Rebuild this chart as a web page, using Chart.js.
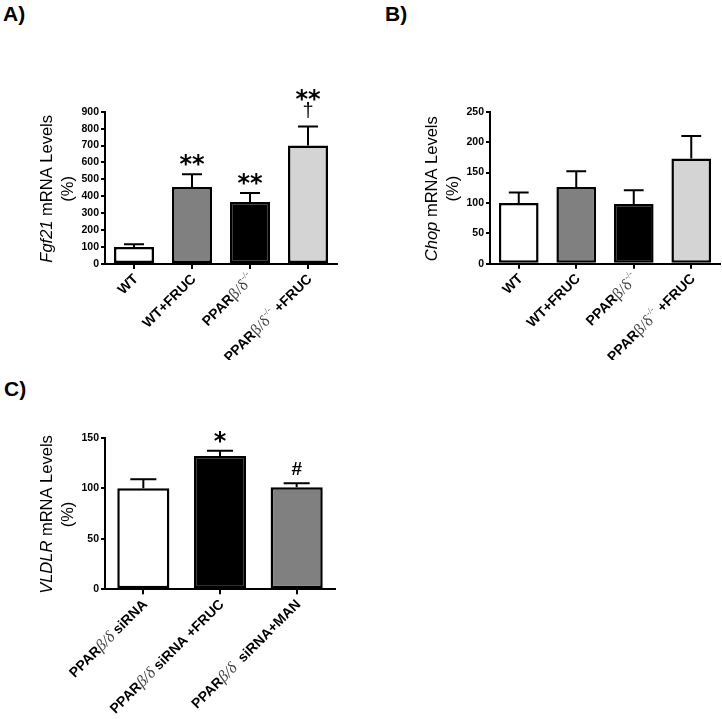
<!DOCTYPE html>
<html>
<head>
<meta charset="utf-8">
<script src="https://cdn.jsdelivr.net/npm/chart.js@4.4.0/dist/chart.umd.min.js"></script>
<style>
body { margin: 0; background: #fff; width: 722px; height: 719px; overflow: hidden; position: relative; font-family: "Liberation Sans", Arial, sans-serif; }
canvas { position: absolute; }
.tag { position: absolute; font-weight: bold; font-size: 21px; line-height: 1; color: #000; }
</style>
</head>
<body>
<div class="tag" style="left:3px;top:3px">A)</div>
<div class="tag" style="left:385px;top:3px">B)</div>
<div class="tag" style="left:4px;top:378px">C)</div>
<canvas id="chartA" style="left:0;top:0;width:360px;height:360px" width="360" height="360"></canvas>
<canvas id="chartB" style="left:361px;top:0;width:361px;height:360px" width="361" height="360"></canvas>
<canvas id="chartC" style="left:0;top:360px;width:360px;height:359px" width="360" height="359"></canvas>
<script>
// Data
const groupsAB = ['WT', 'WT+FRUC', 'PPARβ/δ-/-', 'PPARβ/δ-/- +FRUC'];
const fgf21 = [100, 455, 367, 700];
const fgf21Err = [16, 75, 53, 113];
const fgf21Sig = [[], ['**'], ['**'], ['**', '†']];
const fgf21Ticks = [0, 100, 200, 300, 400, 500, 600, 700, 800, 900];

const chop = [100, 126, 98, 173];
const chopErr = [17, 26, 23, 37];
const chopSig = [[], [], [], []];
const chopTicks = [0, 50, 100, 150, 200, 250];

const groupsC = ['PPARβ/δ siRNA', 'PPARβ/δ siRNA +FRUC', 'PPARβ/δ  siRNA+MAN'];
const vldlr = [100, 132, 101];
const vldlrErr = [9, 5, 4];
const vldlrSig = [[], ['*'], ['#']];
const vldlrTicks = [0, 50, 100, 150];

const SANS = '"Liberation Sans", Arial, sans-serif';
const SERIF = '"Liberation Serif", "Times New Roman", serif';
const symbolFont = {
    '**': 'bold 24px "DejaVu Sans", sans-serif',
    '*': 'bold 24px "DejaVu Sans", sans-serif',
    '†': '20px ' + SANS,
    '#': 'bold 19px ' + SANS
};

// split a category name into styled pieces (greek in serif, -/- as superscript)
function labelParts(text, italicGreek) {
    return text.split(/(β\/δ|-\/-)/).filter(s => s !== '').map(s => {
        if (s === 'β/δ') return { t: s, font: (italicGreek ? 'italic ' : '') + '16px ' + SERIF, color: '#444', dy: 0 };
        if (s === '-/-') return { t: s, font: '9px ' + SERIF, color: '#444', dy: -6 };
        return { t: s, font: 'bold 14px ' + SANS, color: '#000', dy: 0 };
    });
}

function drawParts(ctx, parts, startX) {
    let x = startX;
    parts.forEach(p => {
        ctx.font = p.font;
        ctx.fillStyle = p.color;
        ctx.fillText(p.t, x, p.dy);
        x += ctx.measureText(p.t).width;
    });
}

function partsWidth(ctx, parts) {
    return parts.reduce((w, p) => { ctx.font = p.font; return w + ctx.measureText(p.t).width; }, 0);
}

function makeChart(id, box, labels, values, errs, colors, ticks, sig, title, italicGreek, barPct) {
    const extras = {
        id: 'extras_' + id,
        afterDatasetsDraw(chart) {
            const { ctx, scales: { x, y } } = chart;
            const meta = chart.getDatasetMeta(0);
            ctx.save();
            ctx.strokeStyle = '#000';
            ctx.lineWidth = 2;
            meta.data.forEach((bar, i) => {
                const top = y.getPixelForValue(values[i] + errs[i]);
                const base = y.getPixelForValue(values[i]);
                const half = bar.width / 4;
                ctx.beginPath();
                ctx.moveTo(bar.x, base);
                ctx.lineTo(bar.x, top);
                ctx.moveTo(bar.x - half, top);
                ctx.lineTo(bar.x + half, top);
                ctx.stroke();
                // significance marks, stacked bottom-up
                let bottom = top - 8;
                ctx.fillStyle = '#000';
                ctx.textAlign = 'center';
                ctx.textBaseline = 'alphabetic';
                sig[i].slice().reverse().forEach(s => {
                    ctx.font = symbolFont[s];
                    const m = ctx.measureText(s);
                    const baseLine = bottom - m.actualBoundingBoxDescent;
                    ctx.fillText(s, bar.x, baseLine);
                    bottom = baseLine - m.actualBoundingBoxAscent - 1;
                });
            });
            ctx.restore();
        },
        afterDraw(chart) {
            const { ctx, scales: { x } } = chart;
            ctx.save();
            ctx.textAlign = 'left';
            ctx.textBaseline = 'middle';
            labels.forEach((lab, i) => {
                const parts = labelParts(lab, italicGreek);
                const w = partsWidth(ctx, parts);
                ctx.save();
                ctx.translate(x.getPixelForValue(i) + 2, x.top + 13);
                ctx.rotate(-Math.PI / 4);
                drawParts(ctx, parts, -w);
                ctx.restore();
            });
            // y axis title, two lines
            const cy = (box.top + box.bottom) / 2 + 1;
            const lines = [title, [{ t: '(%)', font: '16.5px ' + SANS, color: '#000', dy: 0 }]];
            lines.forEach((parts, k) => {
                const w = partsWidth(ctx, parts);
                ctx.save();
                ctx.translate(box.left - 58 + k * 21, cy);
                ctx.rotate(-Math.PI / 2);
                drawParts(ctx, parts, -w / 2);
                ctx.restore();
            });
            ctx.restore();
        }
    };

    return new Chart(document.getElementById(id), {
        type: 'bar',
        data: {
            labels: labels,
            datasets: [{
                data: values,
                backgroundColor: colors,
                borderColor: '#000',
                borderWidth: 2.5,
                borderSkipped: false,
                categoryPercentage: 1,
                barPercentage: barPct
            }]
        },
        options: {
            responsive: false,
            animation: false,
            layout: { padding: { top: box.top, right: box.w - box.right, left: 0, bottom: 0 } },
            plugins: { legend: { display: false }, tooltip: { enabled: false } },
            scales: {
                x: {
                    afterFit: s => { s.height = box.h - box.bottom; },
                    ticks: { display: false },
                    grid: { offset: false, drawOnChartArea: false, drawTicks: true, tickLength: 5, color: '#000', lineWidth: 2 },
                    border: { display: true, color: '#000', width: 2 }
                },
                y: {
                    min: 0,
                    max: ticks[ticks.length - 1],
                    afterFit: s => { s.width = box.left; },
                    afterBuildTicks: s => { s.ticks = ticks.map(v => ({ value: v })); },
                    ticks: { color: '#000', padding: 2, font: { family: SANS, size: 10.5, weight: 'bold' } },
                    grid: { drawOnChartArea: false, drawTicks: true, tickLength: 4, color: '#000', lineWidth: 2 },
                    border: { display: true, color: '#000', width: 2 }
                }
            }
        },
        plugins: [extras]
    });
}

const italicTitle = (word) => [
    { t: word, font: 'italic 16.5px ' + SANS, color: '#000', dy: 0 },
    { t: ' mRNA Levels', font: '16.5px ' + SANS, color: '#000', dy: 0 }
];

makeChart('chartA', { left: 105, right: 337, top: 111.7, bottom: 264, w: 360, h: 360 },
    groupsAB, fgf21, fgf21Err, ['#ffffff', '#808080', '#000000', '#d4d4d4'],
    fgf21Ticks, fgf21Sig, italicTitle('Fgf21'), false, 0.69);

makeChart('chartB', { left: 129, right: 359, top: 111.7, bottom: 263.7, w: 361, h: 360 },
    groupsAB, chop, chopErr, ['#ffffff', '#808080', '#000000', '#d4d4d4'],
    chopTicks, chopSig, italicTitle('Chop'), false, 0.69);

makeChart('chartC', { left: 105, right: 335, top: 77.7, bottom: 229.3, w: 360, h: 359 },
    groupsC, vldlr, vldlrErr, ['#ffffff', '#000000', '#808080'],
    vldlrTicks, vldlrSig, italicTitle('VLDLR'), true, 0.68);
</script>
</body>
</html>
